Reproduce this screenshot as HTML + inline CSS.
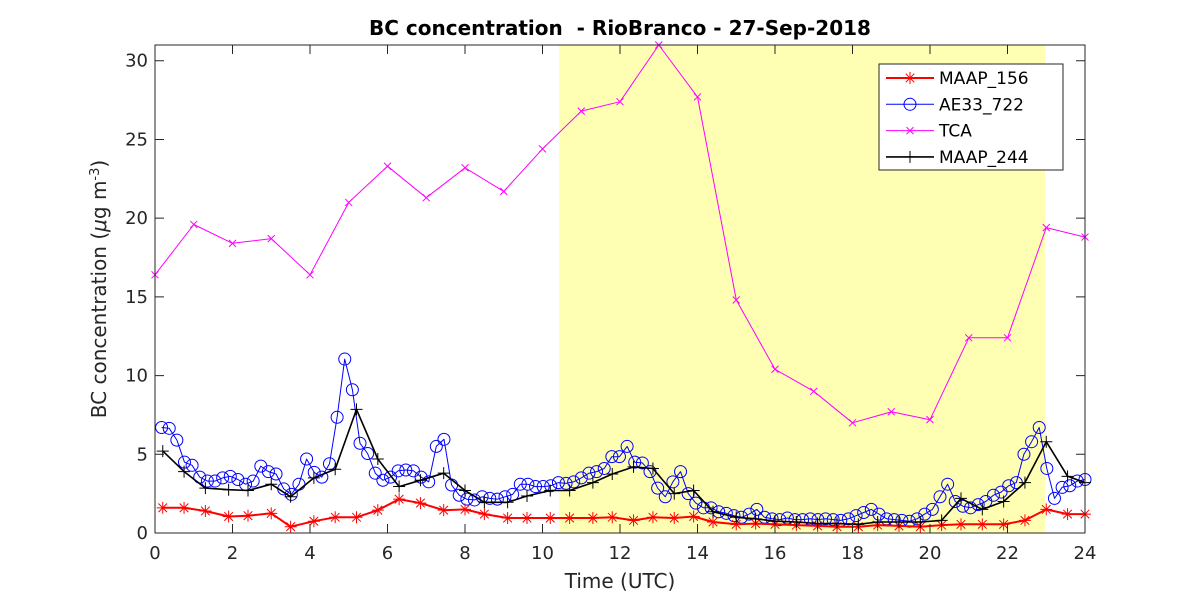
<!DOCTYPE html>
<html><head><meta charset="utf-8"><style>
html,body{margin:0;padding:0;background:#fff;}
svg{display:block;font-family:"DejaVu Sans","Liberation Sans",sans-serif;}
</style></head><body>
<svg id="chart" width="1200" height="600" viewBox="0 0 1200 600" xmlns="http://www.w3.org/2000/svg">
<rect x="0" y="0" width="1200" height="600" fill="#fff"/>
<rect id="shade" fill="#ffffb3"/>
<g id="marks"></g>
<g id="axes"></g>
<text x="620" y="35" text-anchor="middle" font-size="20" font-weight="bold" fill="#000">BC concentration &#160;- RioBranco - 27-Sep-2018</text>
<text x="620" y="588" text-anchor="middle" font-size="20" fill="#262626">Time (UTC)</text>
<text transform="translate(106,289) rotate(-90)" text-anchor="middle" font-size="20" fill="#262626">BC concentration (<tspan font-style="italic">μ</tspan>g m<tspan baseline-shift="super" font-size="13">-3</tspan>)</text>
<g id="legend"></g>
</svg>
<script>
const maapTimes=[0.2,0.75,1.3,1.9,2.4,3.0,3.5,4.1,4.65,5.2,5.75,6.3,6.85,7.45,8.0,8.5,9.1,9.6,10.2,10.7,11.3,11.8,12.35,12.85,13.4,13.9,14.4,15.0,15.5,16.0,16.55,17.1,17.6,18.15,18.65,19.2,19.75,20.3,20.8,21.35,21.9,22.45,23.0,23.55,24.0];
const maap156=[1.6,1.6,1.4,1.05,1.1,1.25,0.4,0.75,1.0,1.0,1.45,2.15,1.9,1.45,1.5,1.2,0.95,0.95,0.95,0.95,0.95,1.0,0.8,1.0,0.95,1.05,0.7,0.55,0.6,0.55,0.5,0.45,0.4,0.4,0.5,0.45,0.4,0.5,0.55,0.55,0.55,0.8,1.5,1.2,1.2];
const maap244=[5.2,3.9,2.85,2.75,2.7,3.1,2.3,3.5,4.05,7.85,4.7,2.95,3.35,3.8,2.7,1.95,1.95,2.35,2.7,2.7,3.2,3.75,4.2,4.1,2.5,2.7,1.35,1.0,0.9,0.75,0.7,0.6,0.6,0.55,0.7,0.7,0.7,0.8,2.2,1.5,2.0,3.2,5.8,3.6,3.2];
const aeStart=0.17, aeEnd=24.0;
const ae33=[6.7,6.65,5.9,4.5,4.3,3.55,3.3,3.3,3.5,3.6,3.4,3.1,3.3,4.25,3.9,3.75,2.8,2.45,3.1,4.7,3.85,3.55,4.4,7.35,11.05,9.1,5.7,5.05,3.8,3.35,3.55,3.95,4.0,3.95,3.55,3.25,5.5,5.95,3.05,2.4,2.15,2.1,2.3,2.2,2.15,2.3,2.45,3.1,3.1,2.95,2.95,3.0,3.2,
3.15,3.25,3.5,3.8,3.9,4.1,4.85,4.85,5.5,4.5,4.45,3.9,2.85,2.3,3.25,3.9,2.5,1.9,1.6,1.6,1.35,1.25,
1.1,1.0,1.2,1.5,1.0,0.9,0.85,0.95,0.85,0.85,0.9,0.85,0.9,0.85,0.8,0.9,1.1,1.3,1.5,1.2,0.9,0.85,0.8,0.75,0.9,1.2,1.5,2.3,3.1,2.0,1.7,1.6,1.8,2.0,2.4,2.6,3.0,3.2,5.0,5.8,6.7,4.1,2.2,2.9,3.0,3.3,3.4];
const tcaTimes=[0,1,2,3,4,5,6,7,8,9,10,11,12,13,14,15,16,17,18,19,20,21,22,23,24];
const tca=[16.4,19.6,18.4,18.7,16.4,21.0,23.3,21.3,23.2,21.7,24.4,26.8,27.4,31.0,27.7,14.8,10.4,9.0,7.0,7.7,7.2,12.4,12.4,19.4,18.8];
const shadeRange=[10.43,22.97];
const xTicks=[0,2,4,6,8,10,12,14,16,18,20,22,24];
const yTicks=[0,5,10,15,20,25,30];
const legendLabels=["MAAP_156","AE33_722","TCA","MAAP_244"];

const X0=155,X1=1085,Y0=533,Y1=45,XMIN=0,XMAX=24,YMIN=0,YMAX=31;
const sx=v=>X0+(v-XMIN)/(XMAX-XMIN)*(X1-X0);
const sy=v=>Y0-(v-YMIN)/(YMAX-YMIN)*(Y0-Y1);
const NS="http://www.w3.org/2000/svg";
function mk(tag,attrs,parent){const e=document.createElementNS(NS,tag);for(const k in attrs)e.setAttribute(k,attrs[k]);parent.appendChild(e);return e;}
const marks=document.getElementById('marks'),axes=document.getElementById('axes'),legend=document.getElementById('legend');
const sh=document.getElementById('shade');
sh.setAttribute('x',sx(shadeRange[0]));sh.setAttribute('y',Y1);sh.setAttribute('width',sx(shadeRange[1])-sx(shadeRange[0]));sh.setAttribute('height',Y0-Y1);

function marker(type,cx,cy,color,g){
  let e;
  if(type==='o'){e=mk('circle',{cx:cx,cy:cy,r:6,fill:'none',stroke:color,'stroke-width':1},g);}
  else{
    let d='';
    if(type==='*'){const s=6,t=4.3;d=`M${cx-s},${cy}H${cx+s}M${cx},${cy-s}V${cy+s}M${cx-t},${cy-t}L${cx+t},${cy+t}M${cx-t},${cy+t}L${cx+t},${cy-t}`;}
    if(type==='x'){const s=3.5;d=`M${cx-s},${cy-s}L${cx+s},${cy+s}M${cx-s},${cy+s}L${cx+s},${cy-s}`;}
    if(type==='+'){const s=6;d=`M${cx-s},${cy}H${cx+s}M${cx},${cy-s}V${cy+s}`;}
    e=mk('path',{d:d,fill:'none',stroke:color,'stroke-width':1},g);
  }
  return e;
}
function series(name,times,vals,color,lw,mtype){
  const g=mk('g',{},marks);
  
  
  const pts=times.map((t,i)=>sx(t).toFixed(1)+','+sy(vals[i]).toFixed(1)).join(' ');
  const pl=mk('polyline',{points:pts,fill:'none',stroke:color,'stroke-width':lw,'stroke-linejoin':'round'},g);
  
  
  times.forEach((t,i)=>{const m=marker(mtype,sx(t),sy(vals[i]),color,g);
    
    });
}
const aeTimes=ae33.map((v,i)=>aeStart+i*(aeEnd-aeStart)/(ae33.length-1));
series('tca',tcaTimes,tca,'#ff00ff',1,'x');
series('ae33-722',aeTimes,ae33,'#0000ff',1,'o');
series('maap-156',maapTimes,maap156,'#ff0000',2,'*');
series('maap-244',maapTimes,maap244,'#000000',1.6,'+');

const box=mk('rect',{x:X0,y:Y1,width:X1-X0,height:Y0-Y1,fill:'none',stroke:'#262626','stroke-width':1},axes);


xTicks.forEach(v=>{const x=sx(v);
  mk('path',{d:`M${x},${Y0}V${Y0-9}M${x},${Y1}V${Y1+9}`,stroke:'#262626','stroke-width':1},axes);
  const t=mk('text',{x:x,y:Y0+26,'text-anchor':'middle','font-size':18,fill:'#262626'},axes);t.textContent=v;
  
  });
yTicks.forEach(v=>{const y=sy(v);
  mk('path',{d:`M${X0},${y}H${X0+9}M${X1},${y}H${X1-9}`,stroke:'#262626','stroke-width':1},axes);
  const t=mk('text',{x:X0-7,y:y+6,'text-anchor':'end','font-size':18,fill:'#262626'},axes);t.textContent=v;
  
  });

const lb=mk('rect',{x:879,y:64,width:184,height:106,fill:'#fff',stroke:'#262626','stroke-width':1},legend);


const lc=['#ff0000','#0000ff','#ff00ff','#000000'],lm=['*','o','x','+'],lw=[2,1,1,1.6];
legendLabels.forEach((lab,i)=>{const y=78+i*26.3;
  const g=mk('g',{},legend);
  
  
  mk('line',{x1:886,x2:934,y1:y,y2:y,stroke:lc[i],'stroke-width':lw[i]},g);
  marker(lm[i],910,y,lc[i],g);
  const t=mk('text',{x:939,y:y+6,'font-size':17,fill:'#000'},g);t.textContent=lab;});
</script>
</body></html>
